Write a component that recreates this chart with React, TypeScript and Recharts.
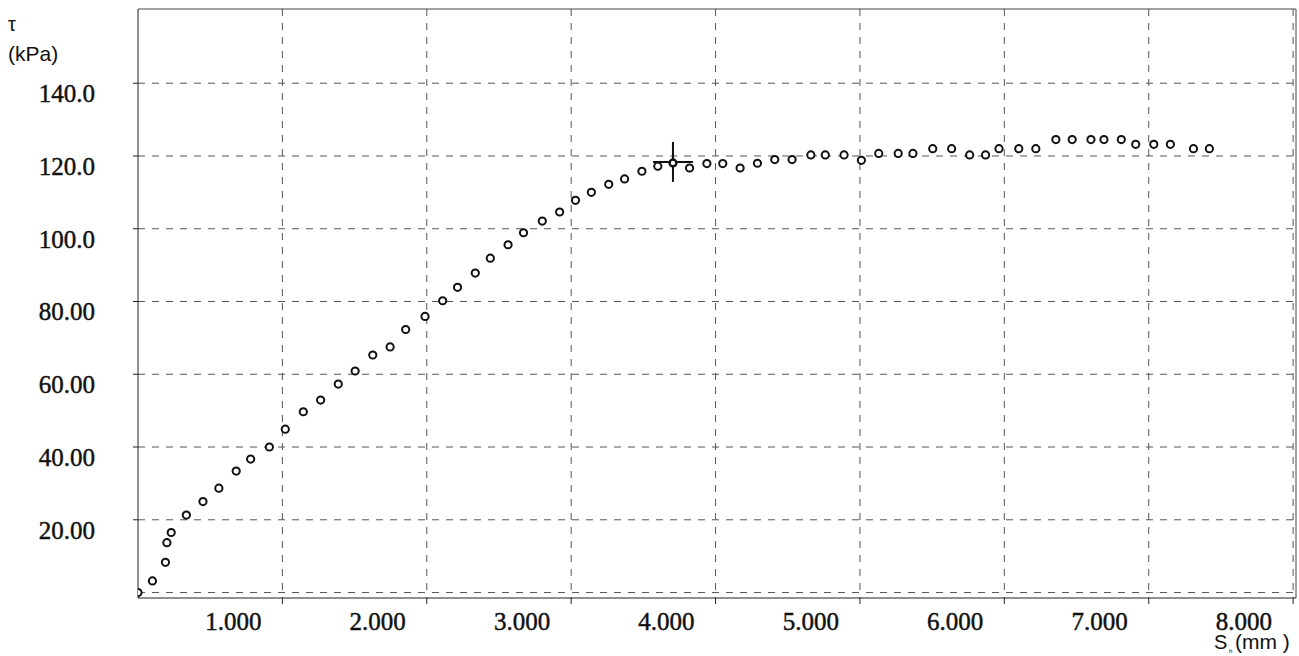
import { CartesianGrid, ReferenceLine, Scatter, ScatterChart, XAxis, YAxis } from 'recharts'

// shear displacement S (mm) and shear stress tau (kPa)
const displacement = [
  0.0, 0.1, 0.19, 0.2, 0.23, 0.335, 0.45, 0.56, 0.68, 0.78, 0.91, 1.02, 1.145, 1.265, 1.387, 1.504,
  1.626, 1.746, 1.854, 1.988, 2.11, 2.213, 2.336, 2.44, 2.563, 2.67, 2.8, 2.92, 3.03, 3.14, 3.26,
  3.37, 3.49, 3.6, 3.705, 3.82, 3.94, 4.05, 4.17, 4.29, 4.41, 4.53, 4.66, 4.76, 4.89, 5.01, 5.13,
  5.265, 5.367, 5.504, 5.635, 5.76, 5.87, 5.963, 6.1, 6.218, 6.357, 6.47, 6.6, 6.69, 6.81, 6.91,
  7.035, 7.15, 7.31, 7.42,
]
const shearStress = [
  0.0, 3.2, 8.3, 13.7, 16.5, 21.3, 25.0, 28.7, 33.4, 36.7, 40.0, 44.9, 49.7, 52.9, 57.3, 60.9,
  65.3, 67.5, 72.3, 75.9, 80.2, 83.9, 87.8, 91.9, 95.6, 98.9, 102.1, 104.6, 107.8, 110.0, 112.2,
  113.7, 115.8, 117.2, 118.1, 116.7, 117.9, 117.9, 116.7, 118.0, 119.0, 119.0, 120.3, 120.3, 120.3,
  118.8, 120.7, 120.7, 120.7, 122.0, 122.0, 120.3, 120.3, 122.0, 122.0, 122.0, 124.5, 124.5, 124.5,
  124.5, 124.5, 123.2, 123.2, 123.2, 122.0, 122.0,
]
const peakIndex = 34

const xTicks = [1, 2, 3, 4, 5, 6, 7, 8]
const yTicks = [20, 40, 60, 80, 100, 120, 140]
const yGrid = [0, 20, 40, 60, 80, 100, 120, 140]
const X_MAX = 8.02
const Y_MIN = -1.5
const Y_MAX = 160.4

const points = displacement.map((s, i) => ({ s, tau: shearStress[i] }))
const peak = [points[peakIndex]]

const serif = '"Liberation Serif", "Times New Roman", serif'
const sans = '"Liberation Sans", Arial, sans-serif'

function fmtY(v: number) {
  return v >= 100 ? v.toFixed(1) : v.toFixed(2)
}

// scanned labels are a bit heavier than plain regular weight
function YTick(props: any) {
  const { x, y, payload } = props
  return (
    <text x={x} y={y + 19} textAnchor="end" fontFamily={serif} fontSize={25} fill="#111" stroke="#111" strokeWidth={0.45}>
      {fmtY(payload.value)}
    </text>
  )
}

function XTick(props: any) {
  const { x, y, payload } = props
  return (
    <text x={x - 21} y={y + 24} textAnchor="end" fontFamily={serif} fontSize={25} fill="#111" stroke="#111" strokeWidth={0.45}>
      {payload.value.toFixed(3)}
    </text>
  )
}

function Dot(props: any) {
  const { cx, cy } = props
  return <circle cx={cx} cy={cy} r={3.6} fill="#fff" stroke="#111" strokeWidth={2} />
}

function PeakMark(props: any) {
  const { cx, cy } = props
  return (
    <g>
      <line x1={cx} y1={cy - 21} x2={cx} y2={cy + 19} stroke="#111" strokeWidth={2} />
      <line x1={cx - 20} y1={cy - 1} x2={cx + 20} y2={cy - 1} stroke="#111" strokeWidth={2} />
      <circle cx={cx} cy={cy} r={3} fill="#fff" stroke="#111" strokeWidth={1.6} />
    </g>
  )
}

export default function App() {
  return (
    <div style={{ position: 'absolute', left: 0, top: 0, width: 1299, height: 656, background: '#fff' }}>
      <ScatterChart width={1299} height={656} margin={{ top: 9, right: 3, bottom: 28, left: 0 }}>
        <CartesianGrid
          horizontalValues={yGrid}
          verticalValues={xTicks}
          stroke="#555"
          strokeDasharray="7 7"
        />
        <XAxis
          type="number"
          dataKey="s"
          domain={[0, X_MAX]}
          ticks={xTicks}
          allowDataOverflow
          height={30}
          tickSize={6}
          tickMargin={2}
          stroke="#222"
          tick={<XTick />}
        />
        <YAxis
          type="number"
          dataKey="tau"
          domain={[Y_MIN, Y_MAX]}
          ticks={yTicks}
          allowDataOverflow
          width={138}
          tickSize={5}
          tickMargin={38}
          stroke="#222"
          tick={<YTick />}
        />
        <ReferenceLine y={Y_MAX} stroke="#444" />
        <ReferenceLine x={X_MAX} stroke="#444" />
        <Scatter data={points} shape={<Dot />} isAnimationActive={false} />
        <Scatter data={peak} shape={<PeakMark />} isAnimationActive={false} />
      </ScatterChart>
      <svg width={1299} height={656} style={{ position: 'absolute', left: 0, top: 0, pointerEvents: 'none' }}>
        <text x={8} y={31} fontFamily={sans} fontSize={20} fill="#111">τ</text>
        <text x={8} y={61} fontFamily={sans} fontSize={21} fill="#111">(kPa)</text>
        <text x={1214} y={649} fontFamily={sans} fontSize={20} fill="#111">S</text>
        <text x={1229} y={653} fontFamily={sans} fontSize={6} fill="#111">h</text>
        <text x={1235} y={649} fontFamily={sans} fontSize={21} fill="#111">(mm )</text>
      </svg>
    </div>
  )
}
